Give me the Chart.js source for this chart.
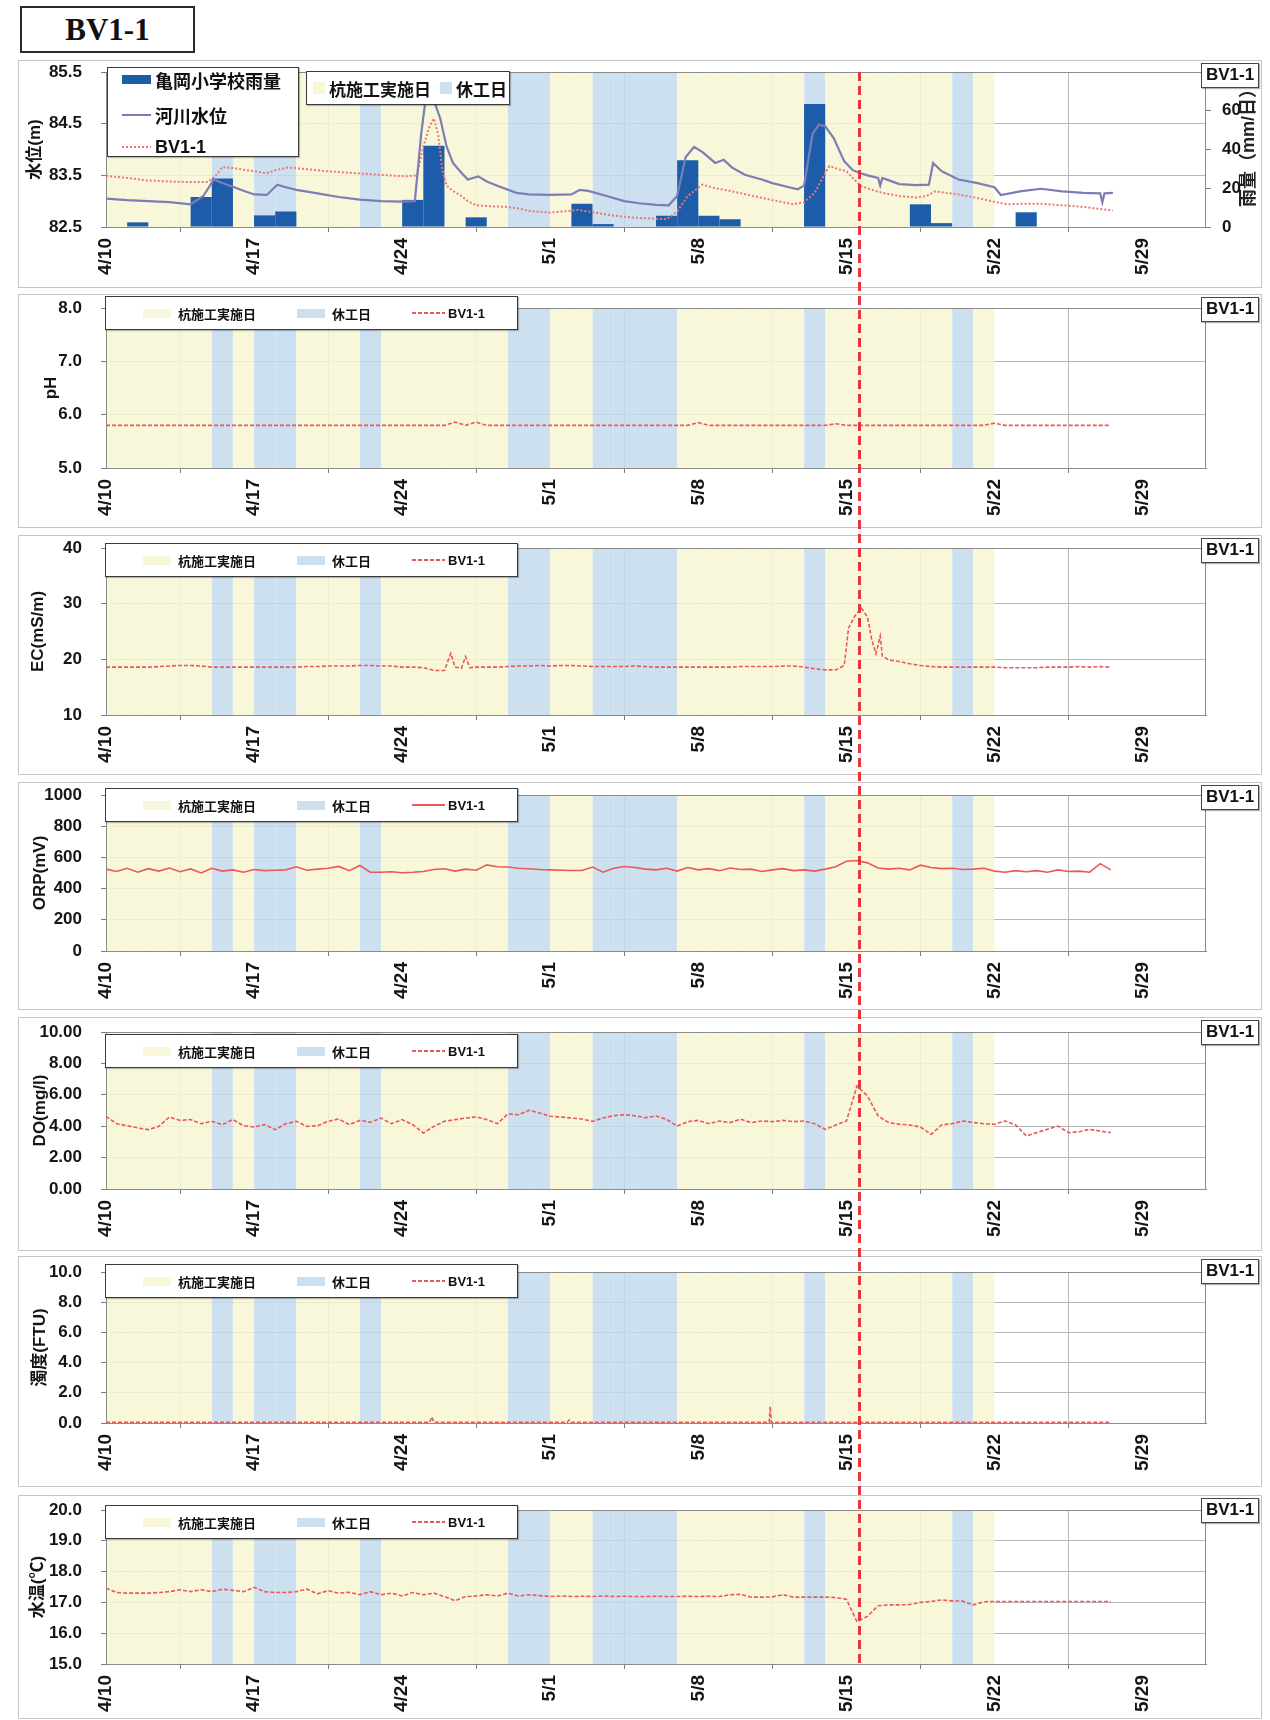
<!DOCTYPE html>
<html lang="ja">
<head>
<meta charset="utf-8">
<title>BV1-1 観測データ</title>
<script src="https://cdn.jsdelivr.net/npm/chart.js@4.4.1/dist/chart.umd.min.js"></script>
<style>
    body { margin: 0; background: #fff; }
    #page { position: relative; width: 1270px; height: 1720px; overflow: hidden; font-family: 'Liberation Sans', 'Noto Sans CJK JP', sans-serif; color: #111; }
    .title-box { position: absolute; left: 20px; top: 6px; width: 171px; height: 43px; border: 2px solid #2a2a2a; font: bold 31px 'Liberation Serif', serif; text-align: center; line-height: 44px; }
    .panel { position: absolute; left: 18px; width: 1242px; border: 1px solid #c6c6c6; }
    .panel canvas { display: block; }
    .tag { position: absolute; right: 2px; top: 2px; width: 58px; height: 25px; box-sizing: border-box; border: 1.5px solid #444; background: #fff; font-size: 17px; font-weight: bold; text-align: center; line-height: 22px; box-shadow: 1px 1px 1px rgba(0,0,0,0.3); }
    .legend { position: absolute; box-sizing: border-box; background: #fff; border: 1.5px solid #3a3a3a; box-shadow: 1px 1px 1px rgba(0,0,0,0.25); font-weight: bold; display: flex; white-space: nowrap; }
    .legend .item { display: flex; align-items: center; }
    .legend-row { align-items: center; padding-left: 37px; gap: 0 41px; font-size: 13px; }
    .legend-row .sw-box { width: 28px; height: 9px; margin-right: 7px; }
    .legend-row .sw-line { width: 33px; margin-right: 3px; }
    .legend-row.big { padding-left: 6px; gap: 0 9px; font-size: 17px; }
    .legend-row.big .sw-box { width: 12px; height: 12px; margin-right: 4px; }
    .legend-stack { flex-direction: column; justify-content: center; padding-left: 14px; gap: 9px 0; font-size: 18px; }
    .legend-stack .sw-box { width: 29px; height: 9px; margin-right: 4px; }
    .legend-stack .sw-line { width: 29px; margin-right: 4px; }
    #event-line { position: absolute; width: 3px; background: repeating-linear-gradient(to bottom, #e8343c 0 9px, transparent 9px 14px); }
</style>
</head>
<body>
<div id="page">
    <div class="title-box">BV1-1</div>
    <div id="panels"></div>
    <div id="event-line"></div>
</div>
<script>
// 日付軸（4/10 を 0 日目とする）
const tickLabels = ['4/10', '4/17', '4/24', '5/1', '5/8', '5/15', '5/22', '5/29'];
const tickStep = 7;
const axisDays = 52;
const eventDay = 35.6; // 5/15 午後

// 杭施工実施日・休工日（日番号）
const workDays = [0, 1, 2, 3, 4, 6, 9, 10, 11, 13, 14, 15, 16, 17, 18, 21, 22, 27, 28, 29, 30, 31, 32, 34, 35, 36, 37, 38, 39, 41];
const restDays = [5, 7, 8, 12, 19, 20, 23, 24, 25, 26, 33, 40];

// 亀岡小学校雨量 (mm/日) 4/10 から
const rainfall = [0, 2.4, 0, 0, 15.5, 25, 0, 6, 8, 0, 0, 0, 0, 0, 14, 42, 0, 5, 0, 0,
    0, 0, 12, 1.5, 0, 0, 5.8, 34.4, 5.8, 4, 0, 0, 0, 63.5, 0, 0, 0, 0, 11.7, 2,
    0, 0, 0, 7.6, 0, 0, 0, 0, 0];
const rainTicks = [0, 20, 40, 60, 80];

// 河川水位 [日, m]
const riverLevel = [[0, 83.05], [1, 83.02], [2, 83.0], [3, 82.98], [4, 82.94], [4.6, 83.1], [5.1, 83.42], [5.5, 83.35],
    [6, 83.28], [6.5, 83.2], [7, 83.13], [7.6, 83.12], [8.1, 83.32], [8.5, 83.27], [9, 83.22], [10, 83.15],
    [11, 83.08], [12, 83.03], [13, 83.0], [14, 82.99], [14.6, 83.0], [14.9, 84.3], [15.1, 84.95], [15.3, 85.02],
    [15.5, 84.95], [15.8, 84.6], [16.1, 84.06], [16.4, 83.74], [16.8, 83.55], [17.1, 83.42], [17.6, 83.48], [18, 83.38],
    [18.5, 83.3], [19.4, 83.16], [20, 83.13], [21, 83.12], [22, 83.13], [22.4, 83.22], [22.8, 83.2], [23.5, 83.12],
    [24.5, 83.0], [25.2, 82.96], [26, 82.93], [26.6, 82.92], [27.0, 83.1], [27.4, 83.85], [27.8, 84.05], [28.2, 83.95],
    [28.8, 83.74], [29.2, 83.8], [29.6, 83.65], [30.2, 83.51], [31, 83.42], [31.5, 83.35], [32.2, 83.28], [32.7, 83.23],
    [33.0, 83.3], [33.4, 84.3], [33.7, 84.48], [34.0, 84.45], [34.4, 84.22], [34.9, 83.77], [35.3, 83.6], [35.6, 83.55],
    [36.0, 83.5], [36.5, 83.45], [36.6, 83.3], [36.7, 83.45], [37.5, 83.33], [38.3, 83.31], [38.9, 83.32], [39.1, 83.74],
    [39.5, 83.58], [40.3, 83.42], [41.2, 83.35], [42, 83.27], [42.3, 83.12], [42.6, 83.14], [43.2, 83.19], [44.2, 83.24],
    [45.2, 83.19], [46.2, 83.16], [47, 83.15], [47.1, 82.98], [47.2, 83.15], [47.6, 83.16]];

// BV1-1 水位 [日, m]
const bvLevel = [[0, 83.49], [1, 83.45], [2, 83.4], [3, 83.38], [4, 83.37], [4.8, 83.37], [5.2, 83.5], [5.5, 83.66],
    [6, 83.64], [7, 83.58], [7.6, 83.54], [8, 83.6], [8.6, 83.65], [9.5, 83.62], [10.4, 83.58], [11.5, 83.55],
    [12.3, 83.53], [13.3, 83.5], [14.2, 83.48], [14.7, 83.5], [15, 84.06], [15.3, 84.45], [15.5, 84.6], [15.7, 84.3],
    [15.9, 83.6], [16.1, 83.3], [16.4, 83.2], [16.8, 83.1], [17.1, 83.0], [17.5, 82.92], [18.2, 82.9], [18.9, 82.89],
    [19.5, 82.86], [20, 82.81], [21, 82.78], [21.6, 82.8], [22.3, 82.83], [23.1, 82.78], [24, 82.72], [25, 82.68],
    [26, 82.66], [26.5, 82.65], [27.0, 82.8], [27.5, 83.1], [28.2, 83.32], [28.8, 83.25], [29.6, 83.19], [30.6, 83.1],
    [31.5, 83.02], [32.5, 82.94], [33.0, 82.98], [33.5, 83.16], [34.0, 83.55], [34.2, 83.68], [34.6, 83.62], [35.0, 83.58],
    [35.3, 83.45], [35.7, 83.29], [36.2, 83.22], [36.7, 83.16], [37.5, 83.1], [38.3, 83.07], [38.8, 83.1], [39.2, 83.19],
    [39.7, 83.16], [40.3, 83.13], [41.2, 83.06], [42.2, 82.97], [42.6, 82.94], [43.4, 82.95], [44.2, 82.95], [45.2, 82.92],
    [46.2, 82.89], [47, 82.85], [47.6, 82.82]];
const levelTicks = [82.5, 83.5, 84.5, 85.5];

// 以下は 12 時間毎の値（0 日目から 47.5 日目）
const SAMPLE_STEP = 0.5;

const phValues = [
    5.80, 5.80, 5.80, 5.80, 5.80, 5.80, 5.80, 5.80,
    5.80, 5.80, 5.80, 5.80, 5.80, 5.80, 5.80, 5.80,
    5.80, 5.80, 5.80, 5.80, 5.80, 5.80, 5.80, 5.80,
    5.80, 5.80, 5.80, 5.80, 5.80, 5.80, 5.80, 5.80,
    5.80, 5.86, 5.80, 5.86, 5.80, 5.80, 5.80, 5.80,
    5.80, 5.80, 5.80, 5.80, 5.80, 5.80, 5.80, 5.80,
    5.80, 5.80, 5.80, 5.80, 5.80, 5.80, 5.80, 5.80,
    5.85, 5.80, 5.80, 5.80, 5.80, 5.80, 5.80, 5.80,
    5.80, 5.80, 5.80, 5.80, 5.80, 5.83, 5.80, 5.80,
    5.80, 5.80, 5.80, 5.80, 5.80, 5.80, 5.80, 5.80,
    5.80, 5.80, 5.80, 5.80, 5.84, 5.80, 5.80, 5.80,
    5.80, 5.80, 5.80, 5.80, 5.80, 5.80, 5.80, 5.80];
const phTicks = [5, 6, 7, 8];

// EC [日, mS/m]
const ecSeries = [[0, 18.6], [0.5, 18.6], [1, 18.6], [1.5, 18.6], [2, 18.6], [2.5, 18.7], [3, 18.8], [3.5, 18.9],
    [4, 18.9], [4.5, 18.8], [5, 18.6], [5.5, 18.6], [6, 18.6], [6.5, 18.6], [7, 18.6], [7.5, 18.6],
    [8, 18.6], [8.5, 18.6], [9, 18.6], [9.5, 18.7], [10, 18.7], [10.5, 18.8], [11, 18.8], [11.5, 18.8],
    [12, 18.9], [12.5, 18.9], [13, 18.8], [13.5, 18.8], [14, 18.6], [14.5, 18.6], [15, 18.5], [15.5, 18.0],
    [16, 18.0], [16.3, 21.1], [16.5, 18.6], [16.8, 18.4], [17, 20.5], [17.2, 18.5], [17.5, 18.6], [18, 18.6],
    [18.5, 18.6], [19, 18.7], [19.5, 18.8], [20, 18.8], [20.5, 18.9], [21, 18.8], [21.5, 18.9], [22, 18.9],
    [22.5, 18.8], [23, 18.7], [23.5, 18.7], [24, 18.7], [24.5, 18.7], [25, 18.8], [25.5, 18.7], [26, 18.6],
    [26.5, 18.6], [27, 18.6], [27.5, 18.6], [28, 18.6], [28.5, 18.6], [29, 18.6], [29.5, 18.6], [30, 18.7],
    [30.5, 18.7], [31, 18.7], [31.5, 18.7], [32, 18.8], [32.5, 18.8], [33, 18.6], [33.5, 18.3], [34, 18.1],
    [34.5, 18.1], [34.9, 18.9], [35.1, 25.6], [35.4, 27.8], [35.7, 29.2], [36.0, 27.6], [36.2, 23.5], [36.4, 21.0],
    [36.6, 24.2], [36.7, 20.6], [37, 19.9], [37.5, 19.6], [38, 19.2], [38.5, 18.9], [39, 18.7], [39.5, 18.6],
    [40, 18.6], [40.5, 18.6], [41, 18.6], [41.5, 18.6], [42, 18.6], [42.5, 18.5], [43, 18.5], [43.5, 18.5],
    [44, 18.5], [44.5, 18.6], [45, 18.6], [45.5, 18.6], [46, 18.7], [46.5, 18.6], [47, 18.7], [47.5, 18.6]];
const ecTicks = [10, 20, 30, 40];

const orpValues = [
    525, 510, 530, 505, 528, 512, 532, 508,
    526, 500, 530, 512, 520, 505, 522, 515,
    518, 520, 540, 518, 525, 530, 542, 515,
    548, 505, 505, 508, 502, 505, 510, 522,
    527, 512, 525, 518, 552, 540, 538, 530,
    527, 522, 520, 518, 516, 516, 538, 505,
    530, 542, 535, 525, 520, 530, 512, 535,
    520, 528, 515, 532, 522, 525, 510, 520,
    528, 515, 520, 512, 525, 540, 575, 580,
    565, 532, 525, 530, 520, 550, 535, 528,
    530, 522, 525, 530, 512, 505, 515, 508,
    515, 505, 520, 510, 512, 505, 560, 520];
const orpTicks = [0, 200, 400, 600, 800, 1000];

const doValues = [
    4.63, 4.16, 4.03, 3.89, 3.78, 3.99, 4.59, 4.37,
    4.42, 4.16, 4.31, 4.10, 4.42, 4.03, 3.95, 4.10,
    3.78, 4.16, 4.31, 3.99, 4.03, 4.31, 4.46, 4.10,
    4.37, 4.25, 4.52, 4.16, 4.42, 4.10, 3.57, 3.99,
    4.31, 4.42, 4.52, 4.59, 4.42, 4.16, 4.78, 4.73,
    5.01, 4.84, 4.63, 4.59, 4.52, 4.46, 4.31, 4.52,
    4.67, 4.73, 4.67, 4.54, 4.65, 4.44, 4.01, 4.29,
    4.37, 4.16, 4.33, 4.23, 4.44, 4.23, 4.33, 4.29,
    4.37, 4.29, 4.33, 4.16, 3.80, 4.08, 4.33, 6.56,
    5.92, 4.65, 4.23, 4.12, 4.08, 3.95, 3.48, 4.08,
    4.16, 4.33, 4.23, 4.16, 4.12, 4.33, 4.08, 3.38,
    3.59, 3.80, 4.01, 3.59, 3.65, 3.80, 3.69, 3.59];
const doTicks = [0, 2, 4, 6, 8, 10];

// 濁度 [日, FTU]
const turbiditySeries = [[0, 0.05], [15.3, 0.05], [15.4, 0.4], [15.5, 0.05], [21.8, 0.05], [21.9, 0.2], [22.0, 0.05],
    [31.35, 0.05], [31.4, 1.1], [31.45, 0.05], [47.5, 0.05]];
const turbidityTicks = [0, 2, 4, 6, 8, 10];

const tempValues = [
    17.46, 17.32, 17.30, 17.30, 17.30, 17.32, 17.35, 17.41,
    17.35, 17.41, 17.35, 17.43, 17.39, 17.35, 17.49, 17.35,
    17.32, 17.32, 17.35, 17.43, 17.28, 17.38, 17.30, 17.33,
    17.25, 17.35, 17.25, 17.30, 17.21, 17.32, 17.25, 17.30,
    17.19, 17.05, 17.19, 17.21, 17.25, 17.21, 17.30, 17.21,
    17.25, 17.22, 17.19, 17.21, 17.19, 17.20, 17.19, 17.21,
    17.19, 17.20, 17.19, 17.19, 17.20, 17.19, 17.19, 17.20,
    17.19, 17.20, 17.19, 17.25, 17.26, 17.17, 17.17, 17.18,
    17.25, 17.17, 17.17, 17.17, 17.17, 17.16, 17.10, 16.38,
    16.55, 16.89, 16.92, 16.92, 16.93, 17.00, 17.03, 17.08,
    17.05, 17.04, 16.92, 17.02, 17.03, 17.03, 17.03, 17.03,
    17.03, 17.03, 17.03, 17.03, 17.03, 17.03, 17.03, 17.03];
const tempTicks = [15, 16, 17, 18, 19, 20];

// ---------------------------------------------------------------
const FONT = "'Liberation Sans', 'Noto Sans CJK JP', sans-serif";
const WORK_COLOR = 'rgba(248, 246, 212, 0.85)';
const REST_COLOR = 'rgba(196, 219, 237, 0.85)';
const BV_COLOR = '#ec5757';
const GRID_COLOR = '#b7b7b7';
const AXIS_COLOR = '#7a7a7a';

Chart.defaults.font.family = FONT;
Chart.defaults.font.weight = 'bold';
Chart.defaults.color = '#151515';

const sampled = values => values.map((v, i) => ({ x: i * SAMPLE_STEP, y: v }));
const pairs = list => list.map(([x, y]) => ({ x, y }));

// 背景の施工日・休工日（1 日幅の棒）
function bandSets(group) {
    const common = {
        type: 'bar', yAxisID: 'band', grouped: false, barPercentage: 1, categoryPercentage: 1,
        borderWidth: 0, inflateAmount: 0, order: 10, band: true, legendGroup: group
    };
    return [
        { ...common, label: '杭施工実施日', data: workDays.map(d => ({ x: d + 0.5, y: 1 })), backgroundColor: WORK_COLOR },
        { ...common, label: '休工日', data: restDays.map(d => ({ x: d + 0.5, y: 1 })), backgroundColor: REST_COLOR }
    ];
}

function bvLine(points, dash) {
    return {
        type: 'line', label: 'BV1-1', yAxisID: 'y', data: points, borderColor: BV_COLOR,
        borderWidth: 1.6, borderDash: dash, pointRadius: 0, tension: 0, order: 0, legendGroup: 0
    };
}

const rowLegend = top => [{ group: 0, cls: 'legend-row', left: 86, top: top, width: 413, height: 34 }];

const panels = [
    {
        top: 60, height: 228, plotTop: 11, xAxisHeight: 60, titlePad: 6,
        title: '水位(m)', min: 82.5, max: 85.5, ticks: levelTicks, decimals: 1,
        rightAxis: { title: '雨量（mm/日）', min: 0, max: 80, ticks: rainTicks },
        legends: [
            { group: 0, cls: 'legend-stack', left: 88, top: 6, width: 192, height: 90 },
            { group: 1, cls: 'legend-row big', left: 287, top: 10, width: 204, height: 34 }
        ],
        datasets: [
            {
                type: 'bar', label: '亀岡小学校雨量', yAxisID: 'y2', data: rainfall.map((v, d) => ({ x: d + 0.5, y: v })),
                backgroundColor: '#1c5ca9', grouped: false, barPercentage: 1, categoryPercentage: 1,
                borderWidth: 0, inflateAmount: 0, order: 5, legendGroup: 0
            },
            {
                type: 'line', label: '河川水位', yAxisID: 'y', data: pairs(riverLevel), borderColor: '#7d7db6',
                borderWidth: 2.2, pointRadius: 0, tension: 0, order: 0, legendGroup: 0
            },
            {
                type: 'line', label: 'BV1-1', yAxisID: 'y', data: pairs(bvLevel), borderColor: '#f07575',
                borderWidth: 2, borderDash: [2, 2], pointRadius: 0, tension: 0, order: 1, legendGroup: 0
            },
            ...bandSets(1)
        ]
    },
    {
        top: 294, height: 234, plotTop: 13, xAxisHeight: 59, titlePad: 22,
        title: 'pH', min: 5, max: 8, ticks: phTicks, decimals: 1, legends: rowLegend(1),
        datasets: [...bandSets(0), bvLine(sampled(phValues), [4, 2])]
    },
    {
        top: 535, height: 240, plotTop: 12, xAxisHeight: 59, titlePad: 9,
        title: 'EC(mS/m)', min: 10, max: 40, ticks: ecTicks, decimals: 0, legends: rowLegend(7),
        datasets: [...bandSets(0), bvLine(pairs(ecSeries), [4, 2])]
    },
    {
        top: 782, height: 228, plotTop: 12, xAxisHeight: 58, titlePad: 11,
        title: 'ORP(mV)', min: 0, max: 1000, ticks: orpTicks, decimals: 0, legends: rowLegend(5),
        datasets: [...bandSets(0), bvLine(sampled(orpValues), [])]
    },
    {
        top: 1017, height: 234, plotTop: 14, xAxisHeight: 61, titlePad: 11,
        title: 'DO(mg/l)', min: 0, max: 10, ticks: doTicks, decimals: 2, legends: rowLegend(16),
        datasets: [...bandSets(0), bvLine(sampled(doValues), [4, 2])]
    },
    {
        top: 1256, height: 231, plotTop: 15, xAxisHeight: 63, titlePad: 11,
        title: '濁度(FTU)', min: 0, max: 10, ticks: turbidityTicks, decimals: 1, legends: rowLegend(7),
        datasets: [...bandSets(0), bvLine(pairs(turbiditySeries), [4, 2])]
    },
    {
        top: 1495, height: 224, plotTop: 14, xAxisHeight: 54, titlePad: 9,
        title: '水温(℃)', min: 15, max: 20, ticks: tempTicks, decimals: 1, legends: rowLegend(9),
        datasets: [...bandSets(0), bvLine(sampled(tempValues), [4, 2])]
    }
];

// プロット枠：背景帯の上、系列の下に描く
const plotFrame = {
    id: 'plotFrame',
    beforeDatasetsDraw(chart) { chart.$framed = false; },
    beforeDatasetDraw(chart, args) {
        if (chart.$framed || chart.data.datasets[args.index].band) return;
        const { ctx, chartArea: a } = chart;
        ctx.save();
        ctx.strokeStyle = '#8c8c8c';
        ctx.lineWidth = 1;
        ctx.strokeRect(Math.round(a.left) + 0.5, Math.round(a.top) + 0.5, Math.round(a.width) - 1, Math.round(a.height));
        ctx.restore();
        chart.$framed = true;
    }
};

// 右軸タイトル（下から上へ読む向き）
const rightTitle = {
    id: 'rightTitle',
    afterDraw(chart, args, opts) {
        if (!opts || !opts.text || !chart.scales.y2) return;
        const { ctx, chartArea: a } = chart;
        ctx.save();
        ctx.translate(chart.scales.y2.left + opts.offset, (a.top + a.bottom) / 2 - 6);
        ctx.rotate(-Math.PI / 2);
        ctx.textAlign = 'center';
        ctx.textBaseline = 'middle';
        ctx.fillStyle = '#222';
        ctx.font = 'bold 18px ' + FONT;
        ctx.fillText(opts.text, 0, 0);
        ctx.restore();
    }
};

Chart.register(plotFrame, rightTitle);

function fixedTicks(values) {
    return scale => { scale.ticks = values.map(v => ({ value: v })); };
}

// 軸の大きさを固定し、ラベルによる余白の追加を止める
function fixSize(size) {
    return scale => {
        if (size.width !== undefined) scale.width = size.width;
        if (size.height !== undefined) scale.height = size.height;
        scale.paddingTop = 0;
        scale.paddingBottom = 0;
        scale.paddingLeft = 0;
        scale.paddingRight = 0;
    };
}

function makeChart(spec, canvas) {
    const tickFont = { size: 17, weight: 'bold' };
    const scales = {
        x: {
            type: 'linear', min: 0, max: axisDays, offset: false,
            afterBuildTicks: fixedTicks(tickLabels.map((_, i) => i * tickStep)),
            afterFit: fixSize({ height: spec.xAxisHeight }),
            ticks: { autoSkip: false, minRotation: 90, maxRotation: 90, padding: 6, font: { size: 19, weight: 'bold' }, callback: (v, i) => tickLabels[i] },
            grid: { color: GRID_COLOR, tickLength: 5, tickColor: AXIS_COLOR },
            border: { color: AXIS_COLOR }
        },
        y: {
            type: 'linear', position: 'left', min: spec.min, max: spec.max,
            afterBuildTicks: fixedTicks(spec.ticks),
            afterFit: fixSize({ width: 87 }),
            ticks: { padding: 19, font: tickFont, callback: v => v.toFixed(spec.decimals) },
            grid: { color: GRID_COLOR, tickLength: 5, tickColor: AXIS_COLOR },
            border: { color: AXIS_COLOR },
            title: { display: true, text: spec.title, font: { size: 17, weight: 'bold' }, padding: { top: spec.titlePad, bottom: 0 } }
        },
        band: { axis: 'y', position: 'right', display: false, min: 0, max: 1 }
    };
    if (spec.rightAxis) {
        scales.y2 = {
            type: 'linear', position: 'right', min: spec.rightAxis.min, max: spec.rightAxis.max,
            afterBuildTicks: fixedTicks(spec.rightAxis.ticks),
            afterFit: fixSize({ width: 55 }),
            ticks: { padding: 11, font: tickFont, callback: v => String(v) },
            grid: { drawOnChartArea: false, tickLength: 5, tickColor: AXIS_COLOR },
            border: { display: false }
        };
    }
    return new Chart(canvas.getContext('2d'), {
        type: 'line',
        data: { datasets: spec.datasets },
        options: {
            responsive: false,
            animation: false,
            events: [],
            layout: { padding: { top: spec.plotTop, right: spec.rightAxis ? 0 : 55, left: 0, bottom: 0 } },
            scales,
            plugins: {
                legend: { display: false },
                tooltip: { enabled: false },
                rightTitle: spec.rightAxis ? { text: spec.rightAxis.title, offset: 43 } : {}
            }
        }
    });
}

function dashBackground(color, dash) {
    if (!dash || !dash.length) return color;
    const [on, off] = dash;
    return `repeating-linear-gradient(to right, ${color} 0 ${on}px, transparent ${on}px ${on + off}px)`;
}

// 凡例はチャートの系列から組み立てる
function buildLegend(chart, box, group) {
    chart.data.datasets.filter(ds => ds.legendGroup === group).forEach(ds => {
        const item = document.createElement('span');
        item.className = 'item';
        const swatch = document.createElement('span');
        if (ds.type === 'bar') {
            swatch.className = 'sw-box';
            swatch.style.background = ds.backgroundColor;
        } else {
            swatch.className = 'sw-line';
            swatch.style.height = Math.round(ds.borderWidth) + 'px';
            swatch.style.background = dashBackground(ds.borderColor, ds.borderDash);
        }
        const label = document.createElement('span');
        label.textContent = ds.label;
        item.append(swatch, label);
        box.appendChild(item);
    });
}

const host = document.getElementById('panels');
const charts = panels.map(spec => {
    const panel = document.createElement('div');
    panel.className = 'panel';
    panel.style.top = spec.top + 'px';
    panel.style.height = (spec.height - 2) + 'px';
    const canvas = document.createElement('canvas');
    canvas.width = 1242;
    canvas.height = spec.height - 2;
    panel.appendChild(canvas);
    host.appendChild(panel);

    const chart = makeChart(spec, canvas);

    spec.legends.forEach(lg => {
        const box = document.createElement('div');
        box.className = 'legend ' + lg.cls;
        Object.assign(box.style, { left: lg.left + 'px', top: lg.top + 'px', width: lg.width + 'px', height: lg.height + 'px' });
        buildLegend(chart, box, lg.group);
        panel.appendChild(box);
    });

    const tag = document.createElement('div');
    tag.className = 'tag';
    tag.textContent = 'BV1-1';
    panel.appendChild(tag);
    return chart;
});

// 5/15 の縦線：全パネルを貫いて描く
(function placeEventLine() {
    const page = document.getElementById('page').getBoundingClientRect();
    const first = charts[0];
    const last = charts[charts.length - 1];
    const r0 = first.canvas.getBoundingClientRect();
    const rN = last.canvas.getBoundingClientRect();
    const x = r0.left - page.left + first.scales.x.getPixelForValue(eventDay);
    const top = r0.top - page.top + first.chartArea.top;
    const bottom = rN.top - page.top + last.chartArea.bottom;
    const line = document.getElementById('event-line');
    Object.assign(line.style, { left: (x - 1.5) + 'px', top: top + 'px', height: (bottom - top) + 'px' });
})();
</script>
</body>
</html>
